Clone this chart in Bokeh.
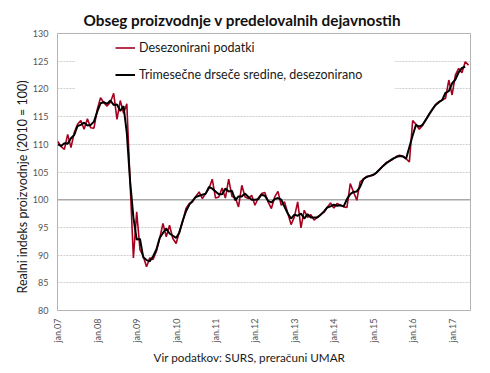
import math
from bokeh.plotting import figure
from bokeh.models import (Range1d, FixedTicker, Span, BoxAnnotation,
                          Legend, LegendItem, Title)
from bokeh.embed import file_html
from bokeh.resources import INLINE

# ---- data (monthly, jan.2007 - jun.2017) ----
desezonirani = [
    110.5, 109.6, 109.1, 111.8, 109.4, 112.1, 113.6, 114.3, 112.7, 114.6, 113.0, 112.9,
    116.3, 118.4, 117.5, 116.9, 117.6, 119.2, 114.5, 117.9, 115.6, 117.3, 103.0, 89.5,
    97.8, 91.0, 89.8, 87.9, 89.5, 89.2, 90.7, 93.0, 95.7, 93.3, 95.4, 93.0,
    92.1, 94.2, 96.0, 98.4, 99.3, 99.6, 100.6, 101.4, 100.2, 101.1, 102.0, 103.7,
    100.3, 100.5, 102.1, 100.3, 103.7, 100.6, 100.4, 98.7, 102.6, 100.5, 100.2, 100.8,
    99.0, 100.3, 101.1, 101.3, 99.6, 98.4, 100.5, 101.5, 99.0, 99.6, 97.5, 95.5,
    96.9, 99.6, 94.9, 98.1, 96.8, 97.3, 96.3, 96.9, 97.3, 97.7, 98.6, 99.4,
    98.5, 99.3, 99.0, 98.7, 98.6, 102.9, 101.4, 99.9, 103.2, 103.7, 104.2, 104.3,
    104.4, 104.9, 105.5, 106.1, 106.7, 107.0, 107.3, 107.8, 108.0, 107.9, 107.4, 106.8,
    114.3, 113.6, 112.7, 113.4, 114.5, 115.4, 116.3, 117.2, 117.7, 118.0, 118.3, 121.6,
    118.9, 122.5, 123.7, 122.9, 124.9, 124.3,
]
trimesecne = [
    110.0, 109.7, 110.2, 110.1, 111.1, 111.7, 113.3, 113.5, 113.9, 113.4, 113.5, 114.1,
    115.9, 117.4, 117.6, 117.3, 117.9, 117.1, 117.2, 116.0, 116.9, 112.0, 103.3, 96.8,
    92.8, 92.9, 89.6, 89.1, 88.9, 89.8, 91.0, 93.1, 94.0, 94.8, 93.9, 93.5,
    93.1, 94.1, 96.2, 97.9, 99.1, 99.8, 100.5, 100.7, 100.9, 101.1, 102.3, 102.0,
    101.5, 101.0, 101.0, 102.0, 101.5, 101.6, 99.9, 100.6, 100.6, 101.1, 100.5, 100.0,
    100.0, 100.1, 100.9, 100.7, 99.8, 99.5, 100.1, 100.3, 100.0, 98.7, 97.5, 96.6,
    97.3, 97.1, 97.5, 96.6, 97.4, 96.8, 96.8, 96.8, 97.3, 97.9, 98.6, 98.8,
    99.1, 98.9, 99.0, 98.8, 100.1, 101.0, 101.4, 101.5, 102.3, 103.7, 104.1, 104.3,
    104.5, 104.9, 105.5, 106.1, 106.6, 107.0, 107.4, 107.7, 107.9, 107.8, 107.4, 109.5,
    111.6, 113.5, 113.2, 113.5, 114.4, 115.4, 116.3, 117.1, 117.6, 118.0, 119.3, 119.6,
    121.0, 121.7, 123.0, 123.8, 124.0,
]
months_red = list(range(len(desezonirani)))
months_black = list(range(len(trimesecne)))

tick_months = [0, 12, 24, 36, 48, 60, 72, 84, 96, 108, 120]
tick_labels = ["jan.07", "jan.08", "jan.09", "jan.10", "jan.11", "jan.12",
               "jan.13", "jan.14", "jan.15", "jan.16", "jan.17"]
y_ticks = [80, 85, 90, 95, 100, 105, 110, 115, 120, 125, 130]

FONT = "Lato"
RED = "#A6001F"

p = figure(width=482, height=365, output_backend="svg", toolbar_location=None,
           x_range=Range1d(-0.1, 125.6), y_range=Range1d(80, 130),
           min_border_left=57, min_border_right=12, min_border_top=33,
           min_border_bottom=52)
p.background_fill_color = "white"
p.border_fill_color = "white"
p.outline_line_color = "#b4b4b4"
p.outline_line_width = 1

# axes
p.xaxis.ticker = FixedTicker(ticks=tick_months)
p.xaxis.major_label_overrides = {m: l for m, l in zip(tick_months, tick_labels)}
p.xaxis.major_label_orientation = math.pi / 2
p.yaxis.ticker = FixedTicker(ticks=y_ticks)
for ax in (p.xaxis, p.yaxis):
    ax.axis_line_color = None
    ax.major_tick_line_color = None
    ax.minor_tick_line_color = None
    ax.major_tick_out = 0
    ax.major_tick_in = 0
    ax.major_label_text_font = FONT
    ax.major_label_text_font_size = "9px"
    ax.major_label_text_color = "#555555"
p.xaxis.major_label_standoff = 8
p.yaxis.major_label_standoff = 9

p.xgrid.grid_line_color = None
p.ygrid.ticker = FixedTicker(ticks=[85, 90, 95, 105, 110, 115, 120, 125])
p.ygrid.grid_line_color = "#cfcfcf"
p.ygrid.grid_line_dash = "2 1"
p.ygrid.grid_line_width = 1

span = Span(location=100, dimension="width", line_color="#a8a8a8",
            line_width=1.6, level="underlay")
p.add_layout(span)

r1 = p.line(months_red, desezonirani, line_color=RED, line_width=1.6)
r2 = p.line(months_black, trimesecne, line_color="black", line_width=2)

# white legend area
box = BoxAnnotation(left=5.3, right=102.5, bottom=119.6, top=129.85,
                    fill_color="white", fill_alpha=1.0, line_color=None)
p.add_layout(box)

legend = Legend(items=[LegendItem(label="Desezonirani podatki", renderers=[r1]),
                       LegendItem(label="Trimesečne drseče sredine, desezonirano",
                                  renderers=[r2])],
                location=(58, 228), padding=0, spacing=12, margin=0,
                glyph_width=20, glyph_height=15, label_height=15,
                label_standoff=4, background_fill_alpha=0,
                border_line_color=None,
                label_text_font=FONT, label_text_font_size="12.5px",
                label_text_color="#1a1a1a")
p.add_layout(legend)

title = Title(text="Obseg proizvodnje v predelovalnih dejavnostih",
              align="left", offset=26, standoff=9,
              text_font=FONT, text_font_style="bold", text_font_size="15.3px",
              text_color="#111111")
p.add_layout(title, "above")

ylab = Title(text="Realni indeks proizvodnje (2010 = 100)",
             align="left", offset=17, standoff=0,
             text_font=FONT, text_font_style="normal", text_font_size="12.5px",
             text_color="#1a1a1a")
p.add_layout(ylab, "left")

cap = Title(text="Vir podatkov: SURS, preračuni UMAR",
            align="left", offset=96, standoff=4,
            text_font=FONT, text_font_style="normal", text_font_size="11.7px",
            text_color="#1a1a1a")
p.add_layout(cap, "below")

open("out.html", "w").write(file_html(p, INLINE))
